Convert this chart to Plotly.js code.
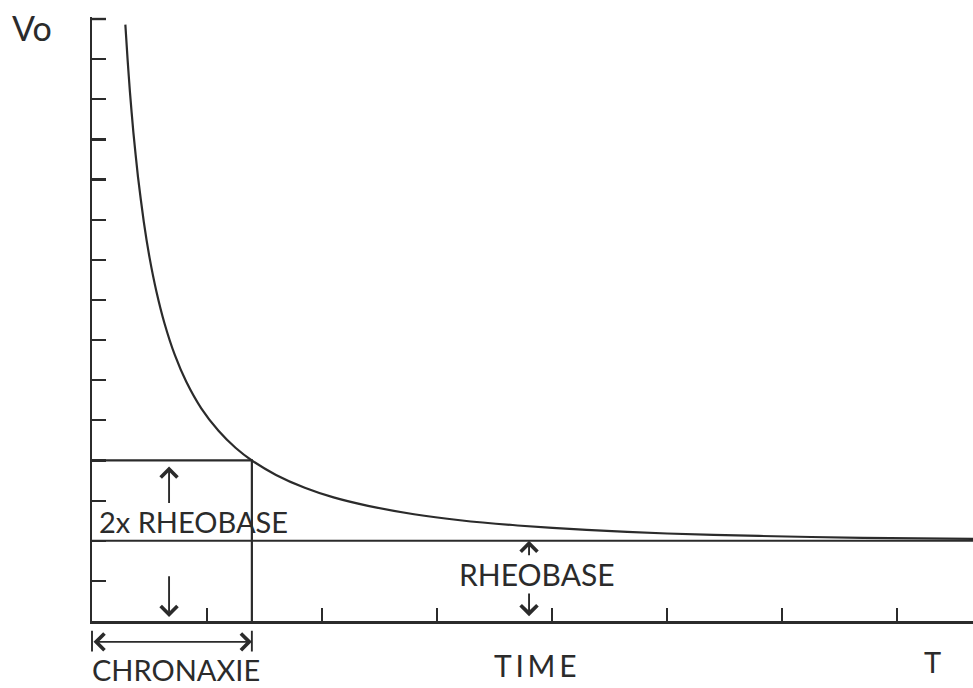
<!DOCTYPE html>
<html>
<head>
<meta charset="utf-8">
<script src="https://cdn.plot.ly/plotly-3.0.1.min.js"></script>
<style>
  html, body { margin: 0; padding: 0; background: #ffffff; }
  #chart { width: 973px; height: 688px; }
</style>
</head>
<body>
<div id="chart"></div>
<script>
// Strength-duration curve: threshold voltage against pulse duration
const timeT = [0.29, 0.31, 0.33, 0.36, 0.40, 0.45, 0.50, 0.56, 0.63, 0.72, 0.82, 0.95,
               1.10, 1.25, 1.39, 1.60, 1.85, 2.10, 2.40, 2.80, 3.20, 3.70, 4.30, 5.00,
               5.80, 6.70, 7.66];
const voltage = [14.86, 13.97, 13.18, 12.17, 11.06, 9.95, 9.06, 8.21, 7.42, 6.63, 5.96, 5.30,
                 4.74, 4.31, 4.00, 3.64, 3.32, 3.08, 2.87, 2.66, 2.51, 2.38, 2.27, 2.18,
                 2.12, 2.07, 2.045];

const rheobase = 2;        // asymptotic threshold
const chronaxie = 1.39;    // duration at twice the rheobase
const timeMax = 7.66;
const voltMax = 15;

const xTickVals = [1, 2, 3, 4, 5, 6, 7];
const yTickVals = [1, 2, 3, 4, 5, 6, 7, 8, 9, 10, 11, 12, 13, 14, 15];

const ink = '#2b2b2b';
const font = 'Lato, "Open Sans", sans-serif';
const lineStyle = { color: ink, width: 2.2 };

const W = 973, H = 688;
const margin = { l: 92, r: 0, t: 17, b: 67 };
const yTop = voltMax + 0.05;   // a little headroom above the last tick
const yTickLen = 14;
const pxPerT = (W - margin.l - margin.r) / timeMax;
const pxPerV = (H - margin.t - margin.b) / yTop;

// data -> paper fractions, for marks that sit outside the plotting area
const px = t => t / timeMax;
const py = v => v / yTop;

const traces = [
  { // the curve
    x: timeT, y: voltage, type: 'scatter', mode: 'lines',
    line: { color: ink, width: 2.2, shape: 'spline', smoothing: 0.6 },
    hoverinfo: 'skip'
  },
  { // rheobase level
    x: [0, timeMax], y: [rheobase, rheobase], type: 'scatter', mode: 'lines',
    line: lineStyle, hoverinfo: 'skip'
  },
  { // twice rheobase up to the chronaxie
    x: [0, chronaxie, chronaxie], y: [2 * rheobase, 2 * rheobase, 0],
    type: 'scatter', mode: 'lines', line: lineStyle, hoverinfo: 'skip'
  },
  { // cap at the top of the voltage axis
    x: [0, yTickLen / pxPerT], y: [voltMax, voltMax], type: 'scatter', mode: 'lines',
    line: { color: ink, width: 2.4 }, hoverinfo: 'skip'
  }
];

const arrowBase = {
  text: '', showarrow: true,
  arrowhead: 4, arrowsize: 1.7, arrowwidth: 1.9, arrowcolor: ink
};

// arrow drawn in data units (inside the plot)
function arrow(xTip, yTip, xTail, yTail, extra) {
  return Object.assign({}, arrowBase, {
    x: xTip, y: yTip, ax: xTail, ay: yTail,
    xref: 'x', yref: 'y', axref: 'x', ayref: 'y'
  }, extra || {});
}

// arrow below the axis: tip in data units, tail offset in data units
function outerArrow(xTip, yTip, dt, dv, extra) {
  return Object.assign({}, arrowBase, {
    x: px(xTip), y: py(yTip), xref: 'paper', yref: 'paper',
    ax: dt * pxPerT, ay: -dv * pxPerV, axref: 'pixel', ayref: 'pixel'
  }, extra || {});
}

function label(text, x, y, size, extra) {
  return Object.assign({
    text: text, x: px(x), y: py(y), xref: 'paper', yref: 'paper',
    showarrow: false, font: { family: font, size: size, color: ink },
    xanchor: 'center', yanchor: 'middle'
  }, extra || {});
}

const arrowX1 = 0.67;   // arrows beside "2x RHEOBASE"
const arrowX2 = 3.80;   // arrows beside "RHEOBASE"
const chronY = -0.52;   // chronaxie span marker level

const annotations = [
  arrow(arrowX1, 3.85, arrowX1, 2.9),
  arrow(arrowX1, 0.1, arrowX1, 1.15),
  arrow(arrowX2, 2.0, arrowX2, 1.6),
  arrow(arrowX2, 0.12, arrowX2, 0.72),
  outerArrow(chronaxie, chronY, -chronaxie, 0,
             { arrowside: 'end+start', startarrowhead: 4, startarrowsize: 1.7 }),
  outerArrow(0, -0.24, 0, -0.56, { arrowhead: 0 }),
  outerArrow(chronaxie, -0.24, 0, -0.56, { arrowhead: 0 }),
  label('2x RHEOBASE', 0.04, 2.47, 29, { xanchor: 'left' }),
  label('RHEOBASE', 3.87, 1.17, 30),
  label('T\u2009I\u2009M\u2009E', 3.86, -1.10, 30),
  label('T', 7.31, -1.02, 29),
  label('CHRONAXIE', 0.73, -1.22, 29),
  label('Vo', -0.52, 14.8, 34)
];

const layout = {
  width: W, height: H, margin: margin,
  paper_bgcolor: '#ffffff', plot_bgcolor: '#ffffff',
  showlegend: false,
  xaxis: {
    range: [0, timeMax], showgrid: false, zeroline: false,
    showline: true, linecolor: ink, linewidth: 2.5,
    ticks: 'inside', ticklen: 13, tickwidth: 2.2, tickcolor: ink,
    tickvals: xTickVals, showticklabels: false, fixedrange: true
  },
  yaxis: {
    range: [0, yTop], showgrid: false, zeroline: false,
    showline: true, linecolor: ink, linewidth: 2.5,
    ticks: 'inside', ticklen: yTickLen, tickwidth: 2.2, tickcolor: ink,
    tickvals: yTickVals, showticklabels: false, fixedrange: true
  },
  annotations: annotations
};

Plotly.newPlot('chart', traces, layout, { displayModeBar: false, staticPlot: true });
</script>
</body>
</html>
